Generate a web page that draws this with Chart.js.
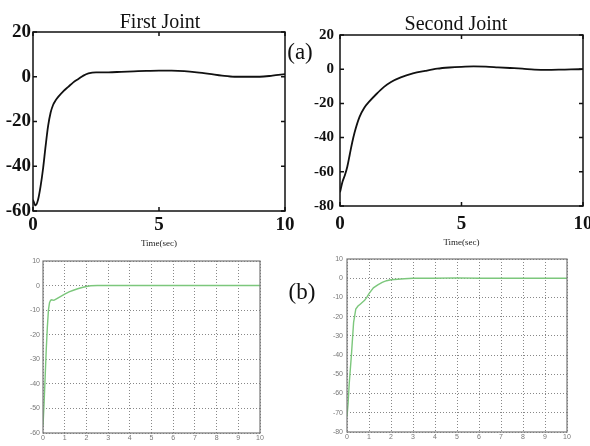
<!DOCTYPE html>
<html>
<head>
<meta charset="utf-8">
<script src="https://cdn.jsdelivr.net/npm/chart.js@4.4.0/dist/chart.umd.min.js"></script>
<style>
  body { margin: 0; background: #fff; }
  #fig { position: relative; width: 590px; height: 446px; background: #fff; overflow: hidden; }
  .box { position: absolute; }
  .lbl { position: absolute; transform: translate(-50%, -50%); font-family: "Liberation Serif", serif; color: #111; white-space: nowrap; }
</style>
</head>
<body>
<div id="fig">
  <div class="box" style="left:0;top:18px"><canvas id="c1" width="302" height="231"></canvas></div>
  <div class="box" style="left:295px;top:28px"><canvas id="c2" width="295" height="220"></canvas></div>
  <div class="box" style="left:0;top:250px"><canvas id="c3" width="270" height="196"></canvas></div>
  <div class="box" style="left:300px;top:248px"><canvas id="c4" width="290" height="198"></canvas></div>
  <div class="lbl" style="left:160px;top:21px;font-size:20px">First Joint</div>
  <div class="lbl" style="left:456px;top:23px;font-size:20px">Second Joint</div>
  <div class="lbl" style="left:300px;top:52px;font-size:23px">(a)</div>
  <div class="lbl" style="left:302px;top:292px;font-size:23px">(b)</div>
</div>
<script>
// (a) first joint - time (sec) and error
const timeA1 = [0, 0.1, 0.2, 0.3, 0.4, 0.5, 0.6, 0.7, 0.8, 0.9, 1.0, 1.2, 1.4, 1.6, 1.8, 2.0, 2.2, 2.5, 3, 3.5, 4, 4.5, 5, 5.5, 6, 6.5, 7, 7.5, 8, 8.5, 9, 9.5, 10];
const errA1 = [-55, -57.5, -55, -49, -41, -31, -22, -16, -12.5, -10.5, -9, -6.5, -4.5, -2.5, -1, 0.5, 1.5, 2, 2, 2.2, 2.4, 2.6, 2.7, 2.7, 2.5, 2, 1.3, 0.5, 0, 0, 0, 0.5, 1.2];

// (a) second joint
const timeA2 = [0, 0.1, 0.2, 0.3, 0.4, 0.5, 0.6, 0.8, 1.0, 1.2, 1.5, 1.8, 2.1, 2.5, 3, 3.5, 4, 4.5, 5, 5.5, 6, 6.5, 7, 7.5, 8, 8.5, 9, 9.5, 10];
const errA2 = [-72, -66, -62, -57, -50, -43, -37, -28, -22.5, -19, -14.5, -10.5, -7.5, -4.8, -2.5, -1, 0.3, 1, 1.4, 1.6, 1.5, 1.1, 0.7, 0.3, -0.2, -0.4, -0.3, -0.1, 0];

// (b) first joint
const timeB1 = [0, 0.05, 0.1, 0.15, 0.2, 0.25, 0.3, 0.35, 0.4, 0.5, 0.6, 0.8, 1.0, 1.2, 1.4, 1.6, 1.8, 2.0, 2.2, 2.5, 3, 4, 5, 6, 7, 8, 9, 10];
const errB1 = [-57, -48, -37, -26, -17, -10, -7, -6, -5.8, -6, -5.5, -4.5, -3.5, -2.6, -1.9, -1.3, -0.8, -0.4, -0.1, 0, 0, 0, 0, 0, 0, 0, 0, 0];

// (b) second joint
const timeB2 = [0, 0.05, 0.1, 0.2, 0.3, 0.4, 0.5, 0.6, 0.7, 0.8, 0.9, 1.0, 1.2, 1.4, 1.6, 1.8, 2.0, 2.3, 2.6, 3, 4, 5, 6, 7, 8, 9, 10];
const errB2 = [-72, -65, -55, -40, -23, -16, -14.5, -13.5, -12.5, -11.5, -10, -8, -5, -3.5, -2.2, -1.3, -0.8, -0.5, -0.3, 0, 0, 0.2, 0, 0, 0, 0, 0];

const xLabel = 'Time(sec)';

function pts(xs, ys) {
    return xs.map((x, i) => ({x: x, y: ys[i]}));
}

// box round the plot, with matlab style inward ticks
const framePlugin = {
    id: 'frame',
    afterDatasetsDraw(chart, args, opts) {
        const {ctx, chartArea: a, scales} = chart;
        ctx.save();
        ctx.strokeStyle = opts.color;
        ctx.lineWidth = opts.width;
        ctx.strokeRect(a.left, a.top, a.right - a.left, a.bottom - a.top);
        if (opts.tick) {
            const len = opts.tick;
            ctx.beginPath();
            scales.x.ticks.forEach((t) => {
                const px = scales.x.getPixelForValue(t.value);
                ctx.moveTo(px, a.bottom); ctx.lineTo(px, a.bottom - len);
                ctx.moveTo(px, a.top); ctx.lineTo(px, a.top + len);
            });
            scales.y.ticks.forEach((t) => {
                const py = scales.y.getPixelForValue(t.value);
                ctx.moveTo(a.left, py); ctx.lineTo(a.left + len, py);
                ctx.moveTo(a.right, py); ctx.lineTo(a.right - len, py);
            });
            ctx.stroke();
        }
        ctx.restore();
    }
};

function fixY(w) {
    return function(s) { s.width = w; s.paddingTop = 0; s.paddingBottom = 0; };
}
function fixX(h) {
    return function(s) { s.height = h; s.paddingLeft = 0; s.paddingRight = 0; };
}

function topChart(id, data, cfg) {
    return new Chart(document.getElementById(id), {
        type: 'line',
        data: {
            datasets: [{
                data: data,
                borderColor: '#111',
                borderWidth: 1.8,
                pointRadius: 0,
                cubicInterpolationMode: 'monotone',
                fill: false
            }]
        },
        options: {
            responsive: false,
            animation: false,
            layout: {padding: cfg.pad},
            plugins: {
                legend: {display: false},
                tooltip: {enabled: false},
                frame: {color: '#111', width: 1.5, tick: 4}
            },
            scales: {
                x: {
                    type: 'linear', min: 0, max: 10,
                    grid: {display: false, drawTicks: false},
                    border: {display: false},
                    ticks: {stepSize: 5, padding: cfg.xPad, maxRotation: 0, autoSkip: false, color: '#111',
                        font: {family: 'Liberation Serif', size: cfg.xFont, weight: 'bold'}},
                    title: {display: true, text: xLabel, color: '#222', padding: {top: 0, bottom: 0},
                        font: {family: 'Liberation Serif', size: 9}},
                    afterFit: fixX(cfg.xH)
                },
                y: {
                    min: cfg.yMin, max: 20,
                    grid: {display: false, drawTicks: false},
                    border: {display: false},
                    ticks: {stepSize: 20, padding: cfg.yPad, color: '#111',
                        font: {family: 'Liberation Serif', size: cfg.yFont, weight: 'bold'}},
                    afterFit: fixY(cfg.yW)
                }
            }
        },
        plugins: [framePlugin]
    });
}

function bottomChart(id, data, cfg) {
    return new Chart(document.getElementById(id), {
        type: 'line',
        data: {
            datasets: [{
                data: data,
                borderColor: '#7cc77c',
                borderWidth: 1.4,
                pointRadius: 0,
                tension: 0,
                fill: false
            }]
        },
        options: {
            responsive: false,
            animation: false,
            layout: {padding: cfg.pad},
            plugins: {
                legend: {display: false},
                tooltip: {enabled: false},
                frame: {color: '#777', width: 1.2, tick: 0}
            },
            scales: {
                x: {
                    type: 'linear', min: 0, max: 10,
                    grid: {color: '#888', lineWidth: 1, drawTicks: false},
                    border: {display: false, dash: [1, 2]},
                    ticks: {stepSize: 1, padding: 1, maxRotation: 0, autoSkip: false, color: '#777',
                        font: {family: 'Liberation Sans', size: 7}},
                    afterFit: fixX(cfg.xH)
                },
                y: {
                    min: cfg.yMin, max: 10,
                    grid: {color: '#888', lineWidth: 1, drawTicks: false},
                    border: {display: false, dash: [1, 2]},
                    ticks: {stepSize: 10, padding: cfg.yPad, color: '#777',
                        font: {family: 'Liberation Sans', size: 7}},
                    afterFit: fixY(cfg.yW)
                }
            }
        },
        plugins: [framePlugin]
    });
}

topChart('c1', pts(timeA1, errA1), {
    pad: {top: 14, right: 17, left: 0, bottom: 0}, yMin: -60,
    yW: 33, yPad: 2, yFont: 19, xH: 38, xPad: 3, xFont: 19
});
topChart('c2', pts(timeA2, errA2), {
    pad: {top: 7, right: 7, left: 0, bottom: 0}, yMin: -80,
    yW: 45, yPad: 6, yFont: 15, xH: 42, xPad: 7, xFont: 19
});
bottomChart('c3', pts(timeB1, errB1), {
    pad: {top: 11, right: 10, left: 0, bottom: 0}, yMin: -60,
    yW: 43, yPad: 3, xH: 13
});
bottomChart('c4', pts(timeB2, errB2), {
    pad: {top: 11, right: 23, left: 0, bottom: 0}, yMin: -80,
    yW: 47, yPad: 4, xH: 14
});
</script>
</body>
</html>
